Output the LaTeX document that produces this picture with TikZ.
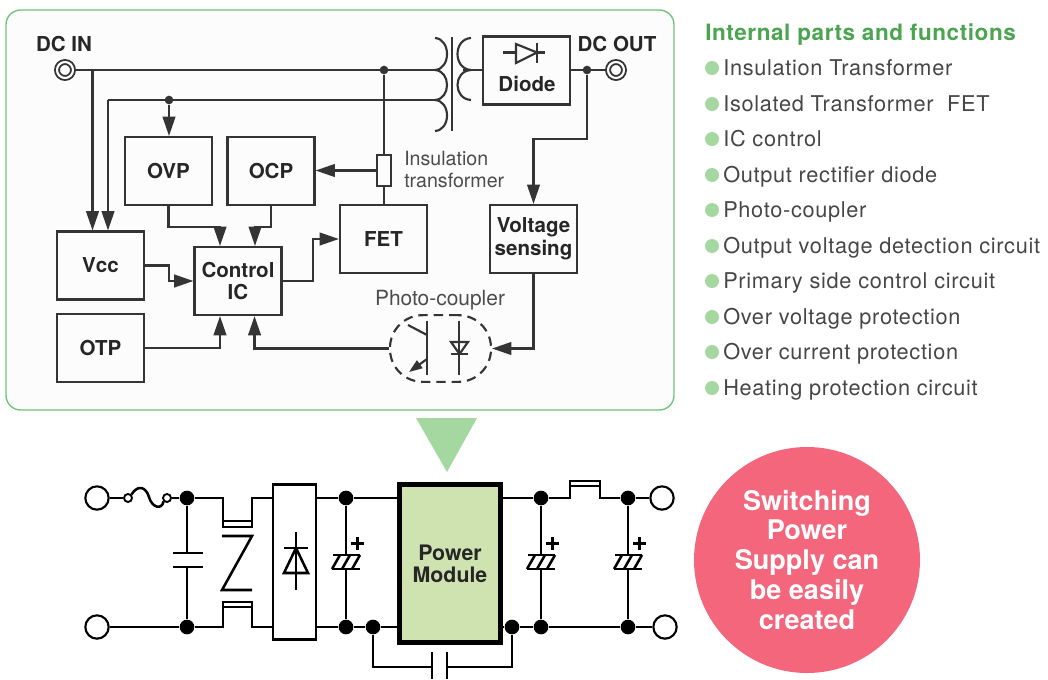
\documentclass[tikz,border=0pt]{standalone}
\usepackage{fontspec}
\setmainfont{TeX Gyre Heros}
\newfontfamily\listfont[LetterSpace=3.2]{TeX Gyre Heros}
\newfontfamily\titlefont[LetterSpace=2.5]{TeX Gyre Heros}
\usetikzlibrary{shapes,arrows.meta}
\definecolor{panelgreen}{RGB}{110,195,120}
\definecolor{titlegreen}{RGB}{75,165,80}
\definecolor{dotgreen}{RGB}{165,215,160}
\definecolor{wedgegreen}{RGB}{165,215,160}
\definecolor{modulegreen}{RGB}{207,227,176}
\definecolor{bubblered}{RGB}{243,102,124}
\definecolor{wiregray}{RGB}{52,52,52}
\definecolor{listgray}{RGB}{70,70,70}
\tikzset{
  wire/.style={line width=1.6pt, wiregray},
  arrowwire/.style={wire, -{Triangle[length=14.5pt,width=9.5pt]}},
  blocktext/.style={font=\fontsize{15.4}{17}\selectfont\bfseries, text=black!85},
  blockbox/.style={draw=wiregray, line width=1.6pt, minimum width=65.25pt, minimum height=51pt, inner sep=0pt, align=center, blocktext},
  junction/.style={circle, fill=wiregray, inner sep=0pt, minimum size=6.5pt},
  terminal/.style={circle, draw=wiregray, line width=1.4pt, double=white, double distance=1.6pt, inner sep=0pt, minimum size=12pt, fill=white},
  note/.style={font=\fontsize{15}{16.5}\selectfont, text=black!70, align=left, inner sep=0pt},
  cwire/.style={line width=1.9pt, black},
  cdot/.style={circle, fill=black, inner sep=0pt, minimum size=11pt},
  cterm/.style={circle, draw=black, line width=1.6pt, fill=white, inner sep=0pt, minimum size=17.5pt},
}
\begin{document}
\begin{tikzpicture}[x=0.75pt, y=-0.75pt]
\useasboundingbox (0,0) rectangle (1048,679);

% Panel
\draw[panelgreen, line width=1pt, fill=black!1, rounded corners=11pt] (6,10) rectangle (674,410);

% Blocks
\node[blockbox] (ovp) at (168.5,171) {\raisebox{-1pt}{OVP}};
\node[blockbox] (ocp) at (271,171) {\raisebox{-1pt}{OCP}};
\node[blockbox] (vcc) at (100.5,265.5) {Vcc};
\node[blockbox] (ctrl) at (238,281) {Control\\IC};
\node[blockbox] (otp) at (100.5,348) {OTP};
\node[blockbox] (fet) at (383.5,239) {\raisebox{-1pt}{FET}};
\node[blockbox] (vsense) at (533.5,239) {Voltage\\sensing};
\node[blockbox] (diodebox) at (526.5,70.5) {};
\node[blocktext] (diodetext) at (527,84) {Diode};
\node[draw=wiregray, line width=1.6pt, minimum width=10.5pt, minimum height=23pt, inner sep=0pt] (shunt) at (384,170.5) {};

% Terminals
\node[blocktext] (intext) at (64,44) {DC IN};
\node[blocktext] (outtext) at (617,44) {DC OUT};
\node[terminal] (dcin) at (65,70) {};
\node[terminal] (dcout) at (616,70) {};

% Transformer
\foreach \ya/\yb in {38/70,70/100,100/131} {
  \draw[wire] (435,\ya) .. controls (451,\ya+1) and (451,\yb-1) .. (435,\yb);
}
\foreach \ya/\yb in {38/70,70/100} {
  \draw[wire] (471,\ya) .. controls (453,\ya+1) and (453,\yb-1) .. (471,\yb);
}
\draw[wire] (452,37) -- (452,131);
\coordinate (coilA) at (435,70);
\coordinate (coilB) at (435,100);
\coordinate (coilC) at (463,70);

% Diode symbol
\draw[wire] (503,52.5) -- (516,52.5);
\draw[wire] (537,52.5) -- (545,52.5);
\draw[wire] (516,44) -- (516,63) -- (537,52.5) -- cycle;
\draw[wire] (537,43) -- (537,63);

% Junctions
\node[junction] (jshunt) at (384,70) {};
\node[junction] (jovp) at (169,100) {};
\node[junction] (jout) at (587,70) {};
\coordinate (tapA) at (92.5,70);
\coordinate (tapB) at (108,100);

% Wires
\draw[wire] (dcin) -- (coilA);
\draw[wire] (coilB) -- (tapB);
\draw[wire] (coilC) -- (coilC -| diodebox.west);
\draw[wire] (diodebox.east |- jout) -- (dcout);
\draw[arrowwire] (tapA) -- (tapA |- vcc.north);
\draw[arrowwire] (tapB) -- (tapB |- vcc.north);
\draw[arrowwire] (jovp) -- (jovp |- ovp.north);
\draw[wire] (jshunt) -- (shunt);
\draw[wire] (shunt) -- (shunt |- fet.north);
\draw[arrowwire] (shunt.west) -- (shunt.west -| ocp.east);
\draw[arrowwire] (ovp.south) -- ++(0,21) -| ([xshift=-13.5pt]ctrl.north);
\draw[arrowwire] (ocp.south) -- ++(0,21) -| ([xshift=12.75pt]ctrl.north);
\draw[arrowwire] (vcc.east) -- ++(24,0) |- (ctrl.west);
\draw[arrowwire] (otp.east) -| ([xshift=-13.5pt]ctrl.south);
\draw[arrowwire] (ctrl.east) -- ++(30,0) |- (fet.west);
\draw[arrowwire] (jout) -- ++(0,69) -| (vsense.north);

% Photo-coupler
\node[note, font=\fontsize{15.7}{16.5}\selectfont] (optotext) at (440,300.5) {Photo-coupler};
\node[draw=wiregray, line width=1.6pt, dash pattern=on 7pt off 4.5pt, rounded corners=24.5pt, minimum width=75.75pt, minimum height=50pt, inner sep=0pt] (opto) at (440.5,348.5) {};
\draw[arrowwire] (vsense.south) |- (opto.east);
\draw[arrowwire] (opto.west) -| ([xshift=12.4pt]ctrl.south);
\draw[wire] (427,321) -- (427,375);
\draw[wire] (408,325) -- (427,335);
\draw[wire, -{Triangle[length=10pt,width=7pt]}] (427,359) -- (409,372);
\draw[wire] (459,321) -- (459,375);
\draw[wire] (451,342) -- (468,342) -- (459.5,354) -- cycle;
\draw[wire] (451,354) -- (468,354);
\node[note, anchor=west, font=\fontsize{14.7}{16.5}\selectfont] (shunttext) at (404,169) {Insulation\\transformer};

% Parts list
\node[anchor=base west, inner sep=0pt, font=\fontsize{16.9}{18}\selectfont\titlefont\bfseries, text=titlegreen] (listtitle) at (705,40) {Internal parts and functions};
\foreach \ytext/\itemtext [count=\i] in {68/Insulation Transformer, 104/Isolated Transformer~ FET, 139/IC control, 175/Output rectifier diode, 210/Photo-coupler, 246/Output voltage detection circuit, 281/Primary side control circuit, 317/Over voltage protection, 352/Over current protection, 388/Heating protection circuit} {
  \node[circle, fill=dotgreen, inner sep=0pt, minimum size=10.5pt] (bullet\i) at (712,\ytext) {};
  \node[anchor=base west, inner sep=0pt, font=\fontsize{16.3}{18}\selectfont\listfont, text=listgray] (item\i) at (723,\ytext+7) {\itemtext};
}

% Wedge
\fill[wedgegreen] (416,418) -- (477,418) -- (447,472) -- cycle;

% Power module
\node[draw=black, line width=3.8pt, fill=modulegreen, minimum width=76pt, minimum height=118pt, inner sep=0pt, align=center, font=\fontsize{16}{16.5}\selectfont\bfseries, text=black!85] (module) at (450,563.5) {Power\\Module};

% Input circuit
\node[cterm] (intop) at (97,498) {};
\node[cterm] (inbot) at (97,627) {};
\node[circle, draw=black, line width=1.4pt, inner sep=0pt, minimum size=6pt] (fuseL) at (128,498) {};
\node[circle, draw=black, line width=1.4pt, inner sep=0pt, minimum size=6pt] (fuseR) at (167,498) {};
\draw[cwire] (intop) -- (fuseL);
\draw[cwire] (fuseL.north east) .. controls (138,484) and (146,487) .. (149,497) .. controls (152,508) and (162,510) .. (fuseR.south west);
\node[cdot] (d1top) at (187,498) {};
\node[cdot] (d1bot) at (187,627) {};
\draw[cwire] (fuseR) -- (d1top);
\draw[cwire] (inbot) -- (d1bot);
\draw[cwire] (d1top) -- (187,553);
\draw[cwire] (d1bot) -- (187,567);
\draw[cwire] (173,553) -- (203,553);
\draw[cwire] (173,567) -- (203,567);

% Common mode choke
\node[draw=black, line width=1.9pt, minimum width=32.25pt, minimum height=116pt, inner sep=0pt] (bridge) at (294.5,562) {};
\draw[cwire] (d1top) -- (223,498) -- (223,527) -- (252,527) -- (252,498) -- (bridge.west |- d1top);
\draw[cwire] (223,521) -- (252,521);
\draw[cwire] (d1bot) -- (223,627) -- (223,602) -- (252,602) -- (252,627) -- (bridge.west |- d1bot);
\draw[cwire] (223,607) -- (252,607);
\draw[cwire] (222,536) -- (252,536) -- (222,590) -- (252,590);

% Bridge symbol
\draw[cwire] (296,532) -- (296,590);
\draw[cwire] (284,548) -- (308,548);
\draw[cwire] (296,548) -- (308,573) -- (284,573) -- cycle;

% Output junctions
\node[cdot] (d2top) at (346,498) {};
\node[cdot] (d2bot) at (346,627) {};
\node[cdot] (d3bot) at (373,627) {};
\node[cdot] (d4bot) at (512,627) {};
\node[cdot] (d5top) at (541,498) {};
\node[cdot] (d5bot) at (541,627) {};
\node[cdot] (d6top) at (628,498) {};
\node[cdot] (d6bot) at (628,627) {};
\node[cterm] (outtop) at (662,498) {};
\node[cterm] (outbot) at (665,627) {};
\draw[cwire] (bridge.east |- d2top) -- (d2top) -- (module.west |- d2top);
\draw[cwire] (bridge.east |- d2bot) -- (d2bot) -- (d3bot) -- (module.west |- d2bot);
\draw[cwire] (module.east |- d5top) -- (d5top) -- (570,498) -- (570,486) -- (600,486) -- (600,498) -- (d6top) -- (outtop);
\draw[cwire] (570,486) -- (570,481) -- (600,481) -- (600,486);
\draw[cwire] (module.east |- d4bot) -- (d4bot) -- (d5bot) -- (d6bot) -- (outbot);

% Electrolytic caps
\foreach \capx/\captop/\capbot in {346/d2top/d2bot,541/d5top/d5bot,628/d6top/d6bot} {
  \draw[cwire] (\captop) -- (\capx,555);
  \draw[cwire] (\capbot) -- (\capx,569);
  \draw[cwire] (\capx-13,555) -- (\capx+14,555);
  \draw[cwire] (\capx-14,569) -- (\capx+14,569);
  \draw[cwire] (\capx-14,569) -- (\capx-6,555);
  \draw[cwire] (\capx-4,569) -- (\capx+4,555);
  \draw[cwire] (\capx+6,569) -- (\capx+14,555);
  \draw[cwire] (\capx+5,543.5) -- (\capx+18,543.5);
  \draw[cwire] (\capx+11.5,537) -- (\capx+11.5,550);
}

% Feedback cap
\coordinate (fbL) at (432,667);
\coordinate (fbR) at (447,667);
\draw[cwire] (d3bot) |- (fbL);
\draw[cwire] (d4bot) |- (fbR);
\draw[cwire] (432,652) -- (432,679);
\draw[cwire] (447,652) -- (447,679);

% Bubble
\node[circle, fill=bubblered, minimum size=169.5pt, inner sep=0pt, align=center, text=white, font=\fontsize{20.3}{22.5}\selectfont\bfseries] (bubble) at (807,560) {\raisebox{-1pt}{Switching}\\Power\\Supply can\\be easily\\created};
\end{tikzpicture}
\end{document}
